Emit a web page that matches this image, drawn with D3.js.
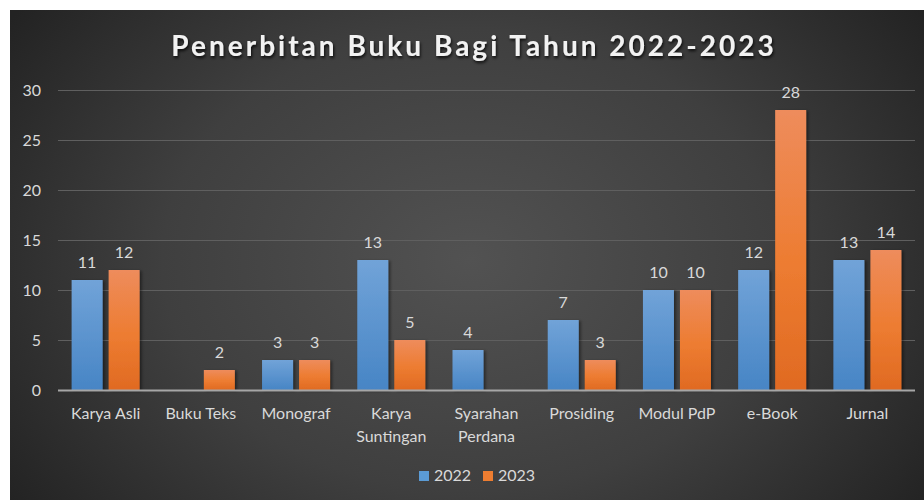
<!DOCTYPE html>
<html>
<head>
<meta charset="utf-8">
<script src="https://cdn.jsdelivr.net/npm/d3@7"></script>
<style>
  html, body { margin: 0; padding: 0; background: #ffffff; }
  svg { display: block; }
</style>
</head>
<body>
<svg id="chart" width="924" height="500"></svg>
<script>
// Categories and series values (null = no publication recorded)
const categories = ["Karya Asli", "Buku Teks", "Monograf", "Karya Suntingan", "Syarahan Perdana", "Prosiding", "Modul PdP", "e-Book", "Jurnal"];
const seriesNames = ["2022", "2023"];
const values2022 = [11, null, 3, 13, 4, 7, 10, 12, 13];
const values2023 = [12, 2, 3, 5, null, 3, 10, 28, 14];
const yTicks = [0, 5, 10, 15, 20, 25, 30];
const titleText = "Penerbitan Buku Bagi Tahun 2022-2023";

const seriesValues = [values2022, values2023];
const rows = categories.map((c, i) => ({
  category: c,
  items: seriesNames.map((s, k) => ({ series: s, value: seriesValues[k][i] }))
}));

const svg = d3.select("#chart");
const FONT = "Lato, 'Open Sans', sans-serif";
const TEXT = "#d9d9d9";
const FS = 16;

const defs = svg.append("defs");

// Background: dark radial shading
const bg = defs.append("radialGradient")
  .attr("id", "bgGrad")
  .attr("gradientUnits", "userSpaceOnUse")
  .attr("cx", 470).attr("cy", 260).attr("r", 560)
  .attr("gradientTransform", "translate(470,260) scale(1,0.75) translate(-470,-260)");
bg.append("stop").attr("offset", "0%").attr("stop-color", "#525252");
bg.append("stop").attr("offset", "55%").attr("stop-color", "#3f3f3f");
bg.append("stop").attr("offset", "100%").attr("stop-color", "#232323");

// Bar fills
const blueGrad = defs.append("linearGradient").attr("id", "blueGrad")
  .attr("x1", 0).attr("y1", 0).attr("x2", 0).attr("y2", 1);
blueGrad.append("stop").attr("offset", "0%").attr("stop-color", "#71a3d8");
blueGrad.append("stop").attr("offset", "100%").attr("stop-color", "#4785c5");
const orangeGrad = defs.append("linearGradient").attr("id", "orangeGrad")
  .attr("x1", 0).attr("y1", 0).attr("x2", 0).attr("y2", 1);
orangeGrad.append("stop").attr("offset", "0%").attr("stop-color", "#ee8c5c");
orangeGrad.append("stop").attr("offset", "55%").attr("stop-color", "#ed7c31");
orangeGrad.append("stop").attr("offset", "100%").attr("stop-color", "#e06a22");

const shadow = defs.append("filter").attr("id", "barShadow")
  .attr("x", "-20%").attr("y", "-20%").attr("width", "150%").attr("height", "140%");
shadow.append("feDropShadow").attr("dx", 2).attr("dy", 1).attr("stdDeviation", 1.5)
  .attr("flood-color", "#000").attr("flood-opacity", 0.45);

const titleShadow = defs.append("filter").attr("id", "titleShadow")
  .attr("x", "-10%").attr("y", "-30%").attr("width", "120%").attr("height", "170%");
titleShadow.append("feDropShadow").attr("dx", 1).attr("dy", 2).attr("stdDeviation", 1.5)
  .attr("flood-color", "#000").attr("flood-opacity", 0.8);

svg.append("rect")
  .attr("x", 10).attr("y", 10).attr("width", 920).attr("height", 500)
  .attr("fill", "url(#bgGrad)");

// Title
svg.append("text")
  .attr("x", 474).attr("y", 56)
  .attr("text-anchor", "middle")
  .attr("font-family", FONT)
  .attr("font-weight", 700)
  .attr("font-size", 28)
  .attr("letter-spacing", 3)
  .attr("fill", "#f2f2f2")
  .attr("filter", "url(#titleShadow)")
  .text(titleText);

// Scales
const plot = { left: 58, right: 915, top: 90, bottom: 390 };
const x0 = d3.scaleBand().domain(categories).range([plot.left, plot.right]).padding(0);
const groupW = 68;
const x1 = d3.scaleBand().domain(seriesNames)
  .range([(x0.bandwidth() - groupW) / 2, (x0.bandwidth() + groupW) / 2])
  .paddingInner(0.162).paddingOuter(0);
const y = d3.scaleLinear().domain([0, 30]).range([plot.bottom, plot.top]);
const fills = { "2022": "url(#blueGrad)", "2023": "url(#orangeGrad)" };
const legendColors = { "2022": "#5b9bd5", "2023": "#ed7d31" };

// Gridlines
svg.append("g")
  .selectAll("line")
  .data(yTicks.filter(t => t > 0))
  .join("line")
  .attr("x1", plot.left).attr("x2", plot.right)
  .attr("y1", d => y(d) + 0.5).attr("y2", d => y(d) + 0.5)
  .attr("stroke", "#5f5f5f").attr("stroke-width", 1);

// Y axis labels
const yAxis = svg.append("g")
  .attr("transform", `translate(${plot.left},0)`)
  .call(d3.axisLeft(y).tickValues(yTicks).tickSize(0).tickPadding(17));
yAxis.select(".domain").remove();
yAxis.selectAll("text")
  .attr("font-family", FONT).attr("font-size", FS).attr("fill", TEXT);

// Bars
const groups = svg.append("g")
  .selectAll("g")
  .data(rows)
  .join("g")
  .attr("transform", d => `translate(${x0(d.category)},0)`);

groups.selectAll("rect")
  .data(d => d.items.filter(it => it.value != null))
  .join("rect")
  .attr("x", d => x1(d.series))
  .attr("y", d => y(d.value))
  .attr("width", x1.bandwidth())
  .attr("height", d => y(0) - y(d.value))
  .attr("fill", d => fills[d.series])
  .attr("filter", "url(#barShadow)");

// Value labels
groups.selectAll("text.val")
  .data(d => d.items.filter(it => it.value != null))
  .join("text")
  .attr("class", "val")
  .attr("x", d => x1(d.series) + x1.bandwidth() / 2)
  .attr("y", d => y(d.value) - 12)
  .attr("text-anchor", "middle")
  .attr("font-family", FONT).attr("font-size", FS).attr("fill", TEXT)
  .text(d => d.value);

// Baseline
svg.append("line")
  .attr("x1", plot.left).attr("x2", plot.right)
  .attr("y1", y(0) + 0.5).attr("y2", y(0) + 0.5)
  .attr("stroke", "#a6a6a6").attr("stroke-width", 2);

// Category labels (wrapped onto two lines where needed)
const xAxis = svg.append("g").attr("transform", `translate(0,${plot.bottom})`)
  .call(d3.axisBottom(x0).tickSize(0).tickFormat(""));
xAxis.select(".domain").remove();
const catLabel = svg.append("g")
  .selectAll("text")
  .data(categories)
  .join("text")
  .attr("x", d => x0(d) + x0.bandwidth() / 2)
  .attr("y", 419)
  .attr("text-anchor", "middle")
  .attr("font-family", FONT).attr("font-size", FS).attr("fill", TEXT);
catLabel.each(function (d) {
  const words = d.split(" ");
  const lines = (d.length > 10 && words.length === 2) ? words : [d];
  const t = d3.select(this);
  lines.forEach((ln, i) => {
    t.append("tspan")
      .attr("x", x0(d) + x0.bandwidth() / 2)
      .attr("dy", i === 0 ? 0 : 22.5)
      .text(ln);
  });
});

// Legend
const legend = svg.append("g").attr("transform", "translate(419,471)");
const legendX = { "2022": 0, "2023": 64 };
seriesNames.forEach(s => {
  const g = legend.append("g").attr("transform", `translate(${legendX[s]},0)`);
  g.append("rect").attr("width", 10).attr("height", 10).attr("fill", legendColors[s]);
  g.append("text").attr("x", 15).attr("y", 10)
    .attr("font-family", FONT).attr("font-size", FS).attr("fill", TEXT)
    .text(s);
});
</script>
</body>
</html>
